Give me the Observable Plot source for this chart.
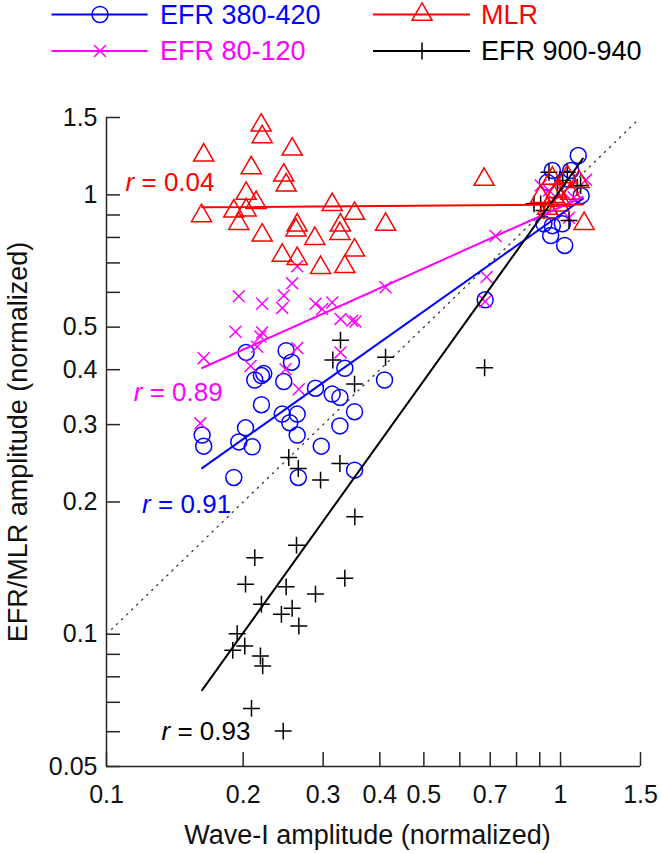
<!DOCTYPE html>
<html>
<head>
<meta charset="utf-8">
<script src="https://cdn.jsdelivr.net/npm/d3@7"></script>
<script src="https://cdn.jsdelivr.net/npm/@observablehq/plot@0.6"></script>
<style>
  body { margin: 0; background: #fff; }
  #wrap { width: 661px; height: 853px; font-family: "Liberation Sans", Arial, Helvetica, sans-serif; }
  #legend { display: block; }
  #chart svg { display: block; }
</style>
</head>
<body>
<div id="wrap">
  <svg id="legend" width="661" height="85"></svg>
  <div id="chart"></div>
</div>
<script>
// ---------------- data ----------------
// EFR 380-420 (blue circles): [wave-I amplitude, EFR amplitude]
const efr400 = [
  [0.2030,0.438],[0.2487,0.442],[0.2555,0.416],[0.3349,0.403],[0.2121,0.379],[0.2194,0.388],
  [0.2220,0.392],[0.2457,0.376],[0.2886,0.363],[0.4096,0.379],[0.2194,0.333],[0.3141,0.352],
  [0.3266,0.346],[0.2438,0.317],[0.2630,0.317],[0.2533,0.303],[0.3518,0.321],[0.2024,0.295],
  [0.1624,0.284],[0.1637,0.268],[0.1956,0.274],[0.2094,0.267],[0.2630,0.284],[0.3266,0.298],
  [0.2971,0.268],[0.1907,0.2274],[0.2645,0.2274],[0.3518,0.2363],[0.6823,0.577],
  [1.094,1.229],[0.9592,1.136],[1.053,1.136],[1.035,1.087],[0.9352,1.068],[1.11,0.996],
  [0.919,0.859],[0.9592,0.851],[0.9511,0.808],[1.021,0.767],[1.0092,0.859]
];
// EFR 80-120 (magenta crosses)
const efr100 = [
  [0.2564,0.629],[0.1956,0.588],[0.2457,0.590],[0.2202,0.565],[0.2438,0.553],[0.2886,0.565],
  [0.3141,0.569],[0.2986,0.550],[0.4117,0.616],[0.3276,0.522],[0.3477,0.517],[0.3535,0.515],
  [0.1923,0.488],[0.2202,0.486],[0.2183,0.476],[0.1637,0.425],[0.2147,0.451],[0.2630,0.448],
  [0.3276,0.438],[0.2076,0.408],[0.2479,0.401],[0.2652,0.361],[0.2630,0.688],[0.1610,0.302],
  [0.7194,0.806],[0.6873,0.650],[0.6823,0.572],
  [0.904,1.050],[1.138,1.082],[1.044,0.887],[1.016,1.012],[1.069,0.986],[0.967,0.971],[0.943,1.023]
];
// MLR (red triangles)
const mlr = [
  [0.2191,1.440],[0.2202,1.355],[0.1637,1.231],[0.2564,1.270],[0.2083,1.152],[0.2457,1.108],
  [0.2487,1.052],[0.2030,1.007],[0.2136,0.960],[0.1907,0.918],[0.2030,0.923],[0.1619,0.896],
  [0.1956,0.860],[0.3141,0.950],[0.3518,0.907],[0.4117,0.856],[0.2630,0.853],[0.2614,0.831],
  [0.3276,0.853],[0.3266,0.816],[0.2202,0.809],[0.2876,0.795],[0.3518,0.748],[0.2438,0.728],
  [0.2630,0.716],[0.2961,0.683],[0.3349,0.686],[0.6787,1.084],
  [0.9592,1.090],[1.035,1.099],[1.098,1.071],[0.904,0.990],[0.9672,0.990],[1.053,1.007],
  [0.9919,0.947],[0.9430,0.915],[1.127,0.860],[1.000,0.971],[0.9366,0.931],[0.980,1.017]
];
// EFR 900-940 (black plus)
const efr920 = [
  [0.3276,0.467],[0.3151,0.421],[0.4117,0.427],[0.3518,0.371],[0.2520,0.2525],[0.2645,0.2383],
  [0.2961,0.2243],[0.3266,0.2446],[0.3523,0.185],[0.2621,0.1595],[0.2121,0.1494],[0.3349,0.1341],
  [0.2024,0.1300],[0.2487,0.1282],[0.2886,0.1234],[0.2194,0.1170],[0.2428,0.1110],[0.2564,0.1146],
  [0.2652,0.1044],[0.1940,0.1003],[0.1897,0.0919],[0.2016,0.0940],[0.2183,0.0892],[0.2208,0.0847],
  [0.2086,0.0678],[0.2450,0.0602],[0.6804,0.404],
  [0.943,1.126],[1.035,1.126],[0.984,1.056],[1.089,1.041],[0.904,0.954],[0.919,0.921],
  [1.044,0.874],[0.874,0.954],[1.011,1.078],[1.107,1.050]
];
// regression-line end values
const fitX   = [0.1624, 1.12];
const fitMLR = [0.937, 0.951];
const fit100 = [0.4036, 0.989];
const fit400 = [0.2388, 0.98];
const fit920 = [0.0746, 1.21];
// identity (dotted) line
const identityX = [0.1, 1.47];
// correlation labels
const rText  = ["= 0.04", "= 0.89", "= 0.91", "= 0.93"];
const rX     = [0.1101, 0.1148, 0.1198, 0.1321];
const rY     = [1.064, 0.355, 0.1968, 0.0601];
const rColor = ["#ff0000", "#ff00ff", "#0000ff", "#000000"];
// axis ticks
const xTicks  = [0.1,0.2,0.3,0.4,0.5,0.6,0.7,0.8,0.9,1,1.5];
const xLabels = [0.1,0.2,0.3,0.4,0.5,0.7,1,1.5];
const yTicks  = [0.05,0.06,0.07,0.08,0.09,0.1,0.2,0.3,0.4,0.5,0.6,0.7,0.8,0.9,1,1.5];
const yLabels = [0.05,0.07,0.1,0.2,0.3,0.4,0.5,0.7,1,1.5];
// legend
const legendItems = [
  {label: "EFR 380-420", color: "#0000ff", symbol: "circle",    col: 0, row: 0},
  {label: "MLR",         color: "#ff0000", symbol: "triangle2", col: 1, row: 0},
  {label: "EFR 80-120",  color: "#ff00ff", symbol: "times",     col: 0, row: 1},
  {label: "EFR 900-940", color: "#000000", symbol: "plus",      col: 1, row: 1}
];

// ---------------- styles ----------------
const FONT = "Liberation Sans, Arial, Helvetica, sans-serif";
const AXIS = "#262626";
const symR = {circle: 8, triangle2: 9.6, times: 5.5, plus: 5.5};
const d3Sym = {circle: d3.symbolCircle, triangle2: d3.symbolTriangle2, times: d3.symbolTimes, plus: d3.symbolPlus};

// ---------------- legend ----------------
const lg = d3.select("#legend");
const colX = [{l0: 51.5, l1: 147.7, m: 100, t: 160}, {l0: 373, l1: 470, m: 422, t: 481}];
const rowY = [14.5, 51];
for (const it of legendItems) {
  const c = colX[it.col], y = rowY[it.row];
  lg.append("line").attr("x1", c.l0).attr("x2", c.l1).attr("y1", y).attr("y2", y)
    .attr("stroke", it.color).attr("stroke-width", 2);
  lg.append("path").attr("transform", `translate(${c.m},${y})`)
    .attr("d", d3.symbol(d3Sym[it.symbol], Math.PI * symR[it.symbol] ** 2)())
    .attr("fill", "none").attr("stroke", it.color).attr("stroke-width", 1.5);
  lg.append("text").attr("x", c.t).attr("y", y).attr("dy", "0.35em")
    .attr("font-family", FONT).attr("font-size", 27).attr("fill", it.color).text(it.label);
}

// ---------------- chart ----------------
const toPts = (arr) => arr.map(([x, y]) => ({x, y}));
const fitLine = (ys) => fitX.map((x, i) => ({x, y: ys[i]}));
const rData = rText.map((t, i) => ({t, x: rX[i], y: rY[i], c: rColor[i]}));
const dotOpts = (sym, color) => ({x: "x", y: "y", symbol: () => sym, r: symR[sym], stroke: color, fill: "none", strokeWidth: 1.5});

const chart = Plot.plot({
  width: 661,
  height: 768,
  marginLeft: 106,
  marginRight: 21,
  marginTop: 32,
  marginBottom: 87,
  style: {fontFamily: FONT, background: "#fff", color: AXIS, overflow: "visible"},
  x: {type: "log", domain: [0.1, 1.5]},
  y: {type: "log", domain: [0.05, 1.5]},
  marks: [
    Plot.line(identityX.map(v => ({x: v, y: v})), {x: "x", y: "y", stroke: "#333", strokeWidth: 1.3, strokeDasharray: "1.3 5.7"}),
    Plot.dot(toPts(efr400), dotOpts("circle", "#0000ff")),
    Plot.dot(toPts(efr100), dotOpts("times", "#ff00ff")),
    Plot.dot(toPts(efr920), dotOpts("plus", "#000000")),
    Plot.dot(toPts(mlr), dotOpts("triangle2", "#ff0000")),
    Plot.line(fitLine(fit400), {x: "x", y: "y", stroke: "#0000ff", strokeWidth: 2}),
    Plot.line(fitLine(fit100), {x: "x", y: "y", stroke: "#ff00ff", strokeWidth: 2}),
    Plot.line(fitLine(fit920), {x: "x", y: "y", stroke: "#000000", strokeWidth: 2}),
    Plot.line(fitLine(fitMLR), {x: "x", y: "y", stroke: "#ff0000", strokeWidth: 2}),
    Plot.text(rData, {x: "x", y: "y", text: () => "r", fill: "c", fontSize: 26, fontStyle: "italic", textAnchor: "start"}),
    Plot.text(rData, {x: "x", y: "y", text: "t", fill: "c", fontSize: 26, textAnchor: "start", dx: 16}),
    Plot.ruleX([0.1], {stroke: AXIS, strokeWidth: 1.5}),
    Plot.ruleY([0.05], {stroke: AXIS, strokeWidth: 1.5}),
    Plot.axisX({ticks: xTicks, tickFormat: d => xLabels.includes(d) ? String(d) : "", tickSize: -14, tickPadding: 33, fontSize: 25, label: null, stroke: AXIS, strokeWidth: 1.5, fill: "#111"}),
    Plot.axisY({ticks: yTicks, tickFormat: d => yLabels.includes(d) ? String(d) : "", tickSize: -14, tickPadding: 23, fontSize: 25, label: null, stroke: AXIS, strokeWidth: 1.5, fill: "#111"}),
    Plot.text(["Wave-I amplitude (normalized)"], {text: d => d, frameAnchor: "bottom", textAnchor: "middle", lineAnchor: "middle", dy: 69, dx: -6, fontSize: 27, fill: "#111"}),
    Plot.text(["EFR/MLR amplitude (normalized)"], {text: d => d, frameAnchor: "left", textAnchor: "middle", lineAnchor: "middle", rotate: -90, dx: -88, fontSize: 27, fill: "#111"})
  ]
});
document.getElementById("chart").appendChild(chart);
</script>
</body>
</html>
